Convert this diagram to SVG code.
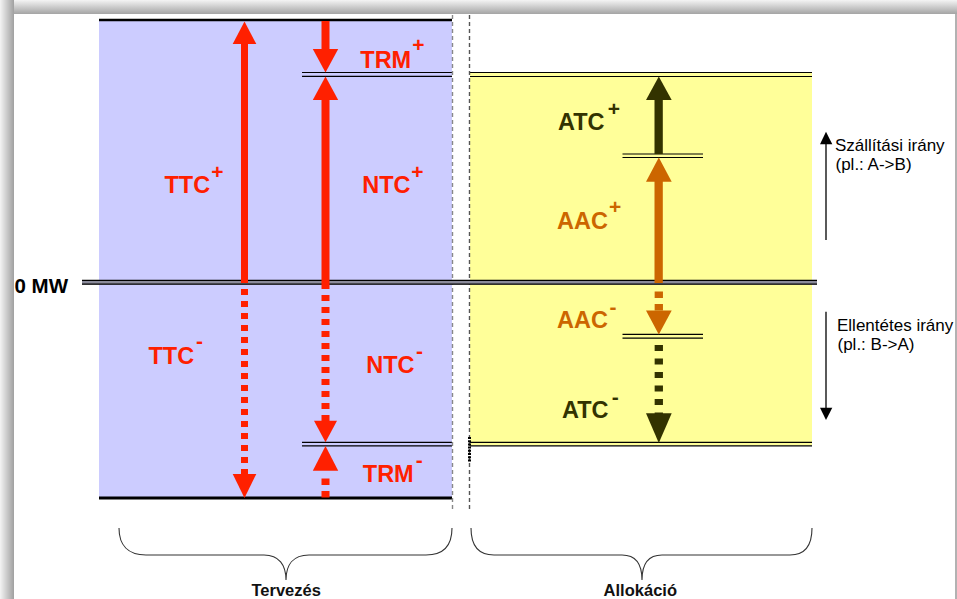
<svg xmlns="http://www.w3.org/2000/svg" width="957" height="599" viewBox="0 0 957 599">
<defs>
<linearGradient id="gTop" x1="0" y1="0" x2="0" y2="1"><stop offset="0" stop-color="#f4f4f4"/><stop offset="1" stop-color="#a4a4a4"/></linearGradient>
<linearGradient id="gLeft" x1="0" y1="0" x2="1" y2="0"><stop offset="0" stop-color="#f4f4f4"/><stop offset="1" stop-color="#a0a0a0"/></linearGradient>
<style>
.lbl{font-family:"Liberation Sans",Arial,sans-serif;font-weight:bold;font-size:23.5px}
.sup{font-family:"Liberation Sans",Arial,sans-serif;font-weight:bold;font-size:21px;text-anchor:middle}
.red{fill:#FF2000}.olive{fill:#333300}.orange{fill:#CC6600}
.note{font-family:"Liberation Sans",Arial,sans-serif;font-size:17px;fill:#000}
.cap{font-family:"Liberation Sans",Arial,sans-serif;font-weight:bold;font-size:16.5px;fill:#111;text-anchor:middle}
.dbl{stroke:#000;stroke-width:1.2;fill:none}
.brace{stroke:#333;stroke-width:1.1;fill:none}
.vdash{stroke-width:1.4;stroke-dasharray:4 3;fill:none}
</style>
</defs>
<rect x="0" y="0" width="957" height="599" fill="#ffffff"/>
<rect x="0" y="0" width="957" height="14" fill="url(#gTop)"/>
<rect x="0" y="0" width="14" height="599" fill="url(#gLeft)"/>
<line x1="956" y1="14" x2="956" y2="599" stroke="#999" stroke-width="1.5"/>

<g id="tervezes-area">
<rect x="99" y="20" width="353" height="478" fill="#CCCCFF"/>
<line x1="99" y1="20" x2="452" y2="20" stroke="#000" stroke-width="2.6"/>
<line x1="99" y1="498" x2="452" y2="498" stroke="#000" stroke-width="2.8"/>
<line class="dbl" x1="302" y1="72.5" x2="452" y2="72.5"/>
<line class="dbl" x1="302" y1="76.3" x2="452" y2="76.3"/>
<line class="dbl" x1="302" y1="442.3" x2="452" y2="442.3"/>
<line class="dbl" x1="302" y1="445.8" x2="452" y2="445.8"/>
</g>

<g id="allokacio-area">
<rect x="470" y="72.5" width="342" height="373" fill="#FFFF99"/>
<line class="dbl" x1="470" y1="72.5" x2="812" y2="72.5"/>
<line class="dbl" x1="470" y1="76.5" x2="812" y2="76.5"/>
<line class="dbl" x1="470" y1="442.3" x2="812" y2="442.3"/>
<line class="dbl" x1="470" y1="445.8" x2="812" y2="445.8"/>
<line class="dbl" x1="622.5" y1="154" x2="703" y2="154"/>
<line class="dbl" x1="622.5" y1="157.5" x2="703" y2="157.5"/>
<line class="dbl" x1="622.5" y1="334.3" x2="703" y2="334.3"/>
<line class="dbl" x1="622.5" y1="338.2" x2="703" y2="338.2"/>
</g>

<g id="dividers">
<line class="vdash" x1="452.5" y1="15" x2="452.5" y2="511" stroke="#888"/>
<line class="vdash" x1="469.5" y1="15" x2="469.5" y2="511" stroke="#555"/>
<line x1="469.5" y1="437" x2="469.5" y2="462" stroke="#000" stroke-width="3" stroke-dasharray="2 1.2"/>
</g>

<g id="zero-line">
<line x1="82" y1="282.2" x2="817" y2="282.2" stroke="#8a8a9a" stroke-width="4.5"/>
<line x1="82" y1="280.3" x2="817" y2="280.3" stroke="#000" stroke-width="1.3"/>
<line x1="82" y1="284.1" x2="817" y2="284.1" stroke="#000" stroke-width="1.3"/>
<text x="14.5" y="293.3" font-family="Liberation Sans, Arial, sans-serif" font-weight="bold" font-size="20.5" fill="#000">0 MW</text>
</g>

<g id="connectors">
<rect x="241" y="43" width="7" height="240" fill="#FF2000"/>
<polygon points="232.7,44 256.3,44 244.5,21.5" fill="#FF2000"/>
<line x1="244.5" y1="289" x2="244.5" y2="475" stroke="#FF2000" stroke-width="7" stroke-dasharray="6 6"/>
<polygon points="232.7,474 256.3,474 244.5,498" fill="#FF2000"/>
<rect x="321.5" y="21" width="8" height="29" fill="#FF2000"/>
<polygon points="312.8,49 338.2,49 325.5,72.5" fill="#FF2000"/>
<rect x="321.5" y="99" width="8" height="190" fill="#FF2000"/>
<polygon points="312.8,100 338.2,100 325.5,76.5" fill="#FF2000"/>
<line x1="325.5" y1="295" x2="325.5" y2="421" stroke="#FF2000" stroke-width="8" stroke-dasharray="6 6"/>
<polygon points="314,420.7 337,420.7 325.5,442.3" fill="#FF2000"/>
<polygon points="312.8,470.7 338.2,470.7 325.5,446" fill="#FF2000"/>
<line x1="325.5" y1="478.5" x2="325.5" y2="498" stroke="#FF2000" stroke-width="8" stroke-dasharray="6.5 6"/>
<rect x="654.5" y="99" width="8.3" height="55" fill="#333300"/>
<polygon points="646,100 671.7,100 658.8,76.5" fill="#333300"/>
<rect x="654.5" y="180" width="8.3" height="103" fill="#CC6600"/>
<polygon points="646,181.7 671.7,181.7 658.8,157.5" fill="#CC6600"/>
<line x1="658.8" y1="291.5" x2="658.8" y2="311" stroke="#CC6600" stroke-width="8.3" stroke-dasharray="6.5 6"/>
<polygon points="646,310.5 671.7,310.5 658.8,334.5" fill="#CC6600"/>
<line x1="658.8" y1="345" x2="658.8" y2="414" stroke="#333300" stroke-width="8.3" stroke-dasharray="6 7.5"/>
<polygon points="646,413.3 671.7,413.3 658.8,443" fill="#333300"/>
<line x1="826" y1="240" x2="826" y2="143" stroke="#000" stroke-width="1.3"/>
<polygon points="820,144.3 832.3,144.3 826,131.7" fill="#000"/>
<line x1="826" y1="311.7" x2="826" y2="409" stroke="#000" stroke-width="1.3"/>
<polygon points="820,407.7 832.3,407.7 826,420" fill="#000"/>
<path class="brace" d="M119,528 C119,545 128,555 146,555 L264,555 C279,555 286,565 286,580 C286,565 293,555 309,555 L426,555 C444,555 452,545 452,528"/>
<path class="brace" d="M471,528 C471,545 478,555 494,555 L622,555 C636,555 642,565 642,580 C642,565 648,555 662,555 L790,555 C805,555 812,545 812,528"/>
</g>

<g id="label-ttc-plus"><text class="lbl red" x="164.5" y="193.3">TTC</text><text class="sup red" x="217.5" y="179">+</text></g>
<g id="label-ntc-plus"><text class="lbl red" x="362.3" y="193.3">NTC</text><text class="sup red" x="417.5" y="179">+</text></g>
<g id="label-trm-plus"><text class="lbl red" x="360.3" y="67.7">TRM</text><text class="sup red" x="418.5" y="51.5">+</text></g>
<g id="label-ttc-minus"><text class="lbl red" x="148.5" y="364.3">TTC</text><text class="sup red" x="199.5" y="347.7">-</text></g>
<g id="label-ntc-minus"><text class="lbl red" x="366.2" y="372.7">NTC</text><text class="sup red" x="419.5" y="357.5">-</text></g>
<g id="label-trm-minus"><text class="lbl red" x="362.8" y="481.7">TRM</text><text class="sup red" x="419.3" y="466.8">-</text></g>
<g id="label-atc-plus"><text class="lbl olive" x="558" y="130">ATC</text><text class="sup olive" x="614" y="116">+</text></g>
<g id="label-aac-plus"><text class="lbl orange" x="557" y="228.7">AAC</text><text class="sup orange" x="615.2" y="214">+</text></g>
<g id="label-aac-minus"><text class="lbl orange" x="557" y="327.7">AAC</text><text class="sup orange" x="613" y="313.5">-</text></g>
<g id="label-atc-minus"><text class="lbl olive" x="562" y="418.3">ATC</text><text class="sup olive" x="615.3" y="403.5">-</text></g>

<g id="note-up"><text class="note" x="835" y="150.7">Szállítási irány</text><text class="note" x="835.5" y="170">(pl.: A-&gt;B)</text></g>
<g id="note-down"><text class="note" x="837" y="330.7">Ellentétes irány</text><text class="note" x="837.5" y="350">(pl.: B-&gt;A)</text></g>
<g id="cap-tervezes"><text class="cap" x="286.2" y="596">Tervezés</text></g>
<g id="cap-allokacio"><text class="cap" x="640.3" y="596">Allokáció</text></g>
</svg>
